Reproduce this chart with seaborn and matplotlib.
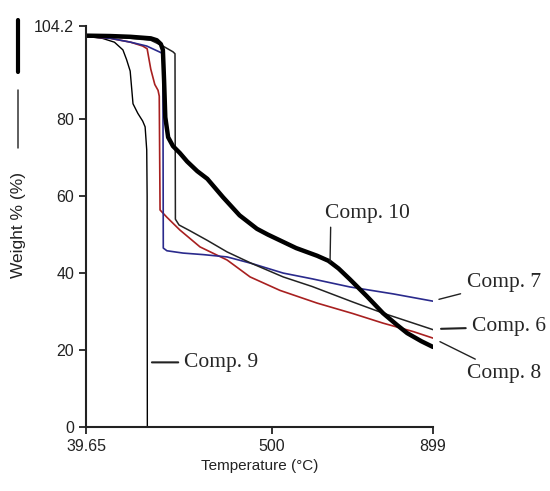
import pandas as pd
import matplotlib.pyplot as plt
import seaborn as sns
import numpy as np
from matplotlib.lines import Line2D

# TGA curves: temperature (°C) vs weight (%)
t_comp9 = [39.65, 80, 110, 131, 140, 149, 156, 168, 180, 186, 190, 191, 191.5]
w_comp9 = [101.5, 101, 100, 98, 95.5, 92.5, 84, 81.5, 79.5, 78, 72, 60, 0]

t_comp8 = [39.65, 100, 150, 180, 191, 200, 210, 218, 221, 223, 240, 272, 322,
           389, 446, 520, 612, 700, 775, 850, 899]
w_comp8 = [101.5, 101, 100, 99, 98.3, 93, 89, 87.5, 86, 56.4, 54.5, 51.2, 46.8,
           43.4, 39, 35.5, 32.2, 29.5, 27, 24.8, 23.1]

t_comp7 = [39.65, 100, 150, 190, 225, 230, 231, 240, 280, 330, 389, 450, 528,
           600, 693, 800, 899]
w_comp7 = [101.5, 101, 100, 99, 97.3, 97, 46.5, 45.8, 45.2, 44.8, 44.2, 42.5, 40,
           38.5, 36.4, 34.6, 32.7]

t_comp6 = [39.65, 100, 150, 200, 230, 255, 260, 261, 270, 297, 340, 389, 450,
           528, 600, 700, 775, 850, 899]
w_comp6 = [101.5, 101.3, 101, 100.5, 99, 97.5, 97, 54, 52.5, 51, 48.5, 45.5, 42.5,
           39, 36.5, 32.5, 29.6, 27, 25.3]

t_comp10 = [39.65, 100, 150, 200, 215, 225, 230, 233, 236, 243, 255, 272, 290,
            315, 340, 379, 420, 463, 490, 520, 560, 612, 640, 665, 693, 735, 775,
            810, 835, 870, 899]
w_comp10 = [101.7, 101.6, 101.4, 101, 100.5, 99.5, 98, 90, 80.5, 75.3, 73, 71.2, 69,
            66.5, 64.5, 59.7, 55, 51.5, 50, 48.5, 46.5, 44.5, 43.2, 41.2, 38.4, 34,
            29.6, 26.5, 24.4, 22.3, 20.8]

x_ticks = [39.65, 500, 899]
x_ticklabels = ['39.65', '500', '899']
y_ticks = [0, 20, 40, 60, 80, 104.2]
y_ticklabels = ['0', '20', '40', '60', '80', '104.2']

series = [
    ('Comp. 9', t_comp9, w_comp9, 'black', 1.0),
    ('Comp. 8', t_comp8, w_comp8, '#a82020', 1.2),
    ('Comp. 7', t_comp7, w_comp7, '#2a2a8c', 1.2),
    ('Comp. 6', t_comp6, w_comp6, '#222222', 1.1),
    ('Comp. 10', t_comp10, w_comp10, 'black', 3.2),
]

sns.set_style('ticks')
plt.rcParams['font.family'] = ['Liberation Sans', 'DejaVu Sans']

fig = plt.figure(figsize=(5.5, 4.91), dpi=100)
ax = fig.add_axes([0.1564, 0.1303, 0.6309, 0.8167])

for name, t, w, col, lw in series:
    df = pd.DataFrame({'T': t, 'W': w})
    sns.lineplot(data=df, x='T', y='W', sort=False, estimator=None,
                 color=col, lw=lw, ax=ax)

ax.set_xlim(39.65, 899)
ax.set_ylim(0, 104.2)
ax.set_xticks(x_ticks)
ax.set_xticklabels(x_ticklabels)
ax.set_yticks(y_ticks)
ax.set_yticklabels(y_ticklabels)
ax.tick_params(axis='both', direction='out', length=5, width=1.3,
               labelsize=11.5, colors='#222222')
ax.set_xlabel('Temperature (°C)', fontsize=11, color='#222222', labelpad=4)
ax.set_ylabel('')
sns.despine(ax=ax)
for s in ['left', 'bottom']:
    ax.spines[s].set_linewidth(1.5)
    ax.spines[s].set_color('#222222')
    ax.spines[s].set_clip_on(False)

# y label with the stray legend strokes beside it
fig.text(0.033, 0.542, 'Weight % (%)', rotation=90, ha='center', va='center',
         fontsize=12.5, color='#222222')
fig.add_artist(Line2D([0.033, 0.033], [1 - 20 / 491, 1 - 72 / 491],
                      color='black', lw=3, transform=fig.transFigure))
fig.add_artist(Line2D([0.033, 0.033], [1 - 90 / 491, 1 - 148 / 491],
                      color='#333333', lw=1.1, transform=fig.transFigure))

# callout labels
serif = ['Liberation Serif', 'DejaVu Serif']
ax.annotate('Comp. 10', xy=(644, 42.9), xytext=(631, 55.6), fontsize=15.5,
            family=serif, ha='left', va='center',
            arrowprops=dict(arrowstyle='-', color='#222222', lw=1,
                            relpos=(0.07, 0.0), shrinkA=1, shrinkB=0))
ax.annotate('Comp. 7', xy=(907, 33), xytext=(982, 37.5), fontsize=15.5,
            family=serif, ha='left', va='center', annotation_clip=False,
            arrowprops=dict(arrowstyle='-', color='#222222', lw=1, shrinkA=2))
ax.annotate('Comp. 6', xy=(912, 25.5), xytext=(995, 26), fontsize=15.5,
            family=serif, ha='left', va='center', annotation_clip=False,
            arrowprops=dict(arrowstyle='-', color='#222222', lw=1.5, shrinkA=2))
ax.annotate('Comp. 8', xy=(910, 22.5), xytext=(982, 14), fontsize=15.5,
            family=serif, ha='left', va='center', annotation_clip=False,
            arrowprops=dict(arrowstyle='-', color='#222222', lw=1, shrinkA=2))
ax.annotate('Comp. 9', xy=(196, 16.8), xytext=(283, 16.8), fontsize=15.5,
            family=serif, ha='left', va='center',
            arrowprops=dict(arrowstyle='-', color='#222222', lw=1.5, shrinkA=2))

fig.savefig('out.png', dpi=100)
